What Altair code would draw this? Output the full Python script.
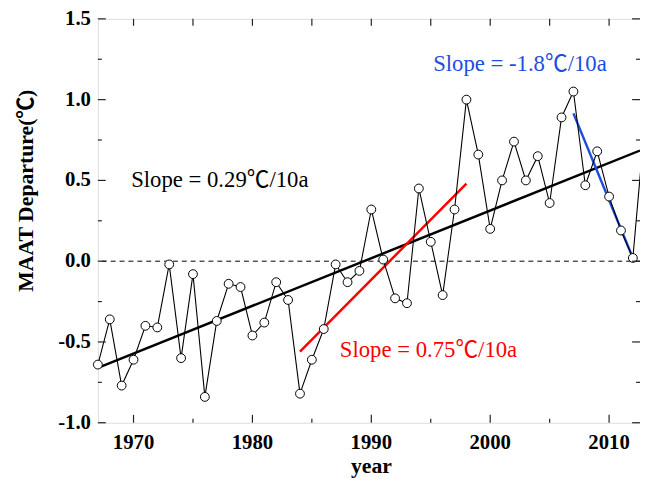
import altair as alt
import pandas as pd

years = list(range(1967, 2014))
maat = [-0.64, -0.36, -0.77, -0.61, -0.40, -0.41, -0.02, -0.60, -0.08, -0.84,
        -0.37, -0.14, -0.16, -0.46, -0.38, -0.13, -0.24, -0.82, -0.61, -0.42,
        -0.02, -0.13, -0.06, 0.32, 0.01, -0.23, -0.26, 0.45, 0.12, -0.21,
        0.32, 1.00, 0.66, 0.20, 0.50, 0.74, 0.50, 0.65, 0.36, 0.89,
        1.05, 0.47, 0.68, 0.40, 0.19, 0.02, 0.85]

trend_all_x = [1967, 2012.6]
trend_all_y = [-0.66, 0.685]
trend_red_x = [1984, 1998]
trend_red_y = [-0.56, 0.48]
trend_blue_x = [2007, 2012]
trend_blue_y = [0.915, 0.02]

label_text = ["Slope = 0.29℃/10a", "Slope = 0.75℃/10a", "Slope = -1.8℃/10a"]
label_x = [1969.8, 1987.35, 1995.2]
label_y = [0.50, -0.553, 1.22]
label_color = ["#000000", "#ff0000", "#1d4ddf"]

x_title = "year"
y_title = "MAAT Departure(℃)"
x_major = [1970, 1980, 1990, 2000, 2010]
x_minor = [1975, 1985, 1995, 2005]
x_all = [1970, 1975, 1980, 1985, 1990, 1995, 2000, 2005, 2010]
y_major = [-1.0, -0.5, 0.0, 0.5, 1.0, 1.5]
y_minor = [-0.75, -0.25, 0.25, 0.75, 1.25]

W, H = 549, 409
FONT = "Liberation Serif"
FONT_CJK = "'Liberation Serif', 'Noto Sans CJK SC'"
TC = "#222222"

df = pd.DataFrame({"year": years, "maat": maat})
df_pts = df[df.year <= 2012]
t_all = pd.DataFrame({"year": trend_all_x, "maat": trend_all_y})
t_red = pd.DataFrame({"year": trend_red_x, "maat": trend_red_y})
t_blue = pd.DataFrame({"year": trend_blue_x, "maat": trend_blue_y})
labels = pd.DataFrame({"year": label_x, "maat": label_y, "txt": label_text, "col": label_color})

xs = alt.Scale(domain=[1967, 2012.6], nice=False, zero=False)
ys = alt.Scale(domain=[-1.0, 1.5], nice=False, zero=False)


def X(field):
    return alt.X(field, scale=xs, axis=None)


def Y(field):
    return alt.Y(field, scale=ys, axis=None)


def yticks(vals, xc, size):
    return alt.Chart(pd.DataFrame({"v": vals})).mark_tick(
        orient="horizontal", size=size, thickness=1.2, color=TC, opacity=1).encode(
        y=Y("v:Q"), x=alt.value(xc))


def xticks(vals, yc, size):
    return alt.Chart(pd.DataFrame({"v": vals})).mark_tick(
        orient="vertical", size=size, thickness=1.2, color=TC, opacity=1).encode(
        x=X("v:Q"), y=alt.value(yc))


ticks = [
    yticks(y_major, 4, 8), yticks(y_minor, 2, 4),
    yticks(y_major, W - 4, 8), yticks(y_minor, W - 2, 4),
    xticks(x_major, H - 4, 8), xticks(x_minor, H - 2, 4),
    xticks(x_all, 3.5, 7),
]

# tick labels and axis titles
ylab = alt.Chart(pd.DataFrame({"v": y_major})).transform_calculate(
    lab="(datum.v < 0 ? '-' : '') + format(abs(datum.v), '.1f')"
).mark_text(font=FONT, fontSize=21, fontWeight="bold", color="black",
            align="right", baseline="middle").encode(
    y=Y("v:Q"), x=alt.value(-7), text="lab:N")

xlab = alt.Chart(pd.DataFrame({"v": x_major})).transform_calculate(
    lab="format(datum.v, 'd')"
).mark_text(font=FONT, fontSize=21, fontWeight="bold", color="black",
            align="center", baseline="top").encode(
    x=X("v:Q"), y=alt.value(H + 10), text="lab:N")

xt = alt.Chart(pd.DataFrame({"t": [x_title]})).mark_text(
    font=FONT, fontSize=22, fontWeight="bold", color="black",
    align="center", baseline="alphabetic").encode(
    x=alt.value(277), y=alt.value(H + 51), text="t:N")

yt = alt.Chart(pd.DataFrame({"t": [y_title]})).mark_text(
    font=FONT_CJK, fontSize=22, fontWeight="bold", color="black",
    align="center", baseline="middle", angle=270).encode(
    x=alt.value(-73), y=alt.value(174), text="t:N")

line = alt.Chart(df).mark_line(color="black", strokeWidth=1.1, clip=True).encode(
    x=X("year:Q"), y=Y("maat:Q"))

zero = alt.Chart(pd.DataFrame({"z": [0.0]})).mark_rule(
    color="black", strokeWidth=1, strokeDash=[5, 4]).encode(y=Y("z:Q"))

pts = alt.Chart(df_pts).mark_point(
    shape="circle", size=80, filled=False, fill="white", fillOpacity=1,
    stroke="black", strokeWidth=1, opacity=1).encode(x=X("year:Q"), y=Y("maat:Q"))

black = alt.Chart(t_all).mark_line(color="black", strokeWidth=2.5, clip=True).encode(
    x=X("year:Q"), y=Y("maat:Q"))

red = alt.Chart(t_red).mark_line(color="#ff0000", strokeWidth=2.5).encode(
    x=X("year:Q"), y=Y("maat:Q"))

blue = alt.Chart(t_blue).mark_line(color="#1d4ddf", strokeWidth=2.5).encode(
    x=X("year:Q"), y=Y("maat:Q"))

texts = alt.Chart(labels).mark_text(
    font=FONT_CJK, fontSize=23, align="left", baseline="middle").encode(
    x=X("year:Q"), y=Y("maat:Q"),
    text="txt:N",
    color=alt.Color("col:N", scale=None),
)

chart = alt.layer(zero, ylab, xlab, xt, yt, black, red, blue, line, pts, texts, *ticks).properties(
    width=W, height=H,
    autosize=alt.AutoSizeParams(type="none"),
    padding={"left": 91, "top": 8, "right": 0, "bottom": 56},
).configure_view(stroke="#444444", strokeWidth=1.2).configure(background="white")

chart.save("out.html", embed_options={"renderer": "svg", "actions": False})
